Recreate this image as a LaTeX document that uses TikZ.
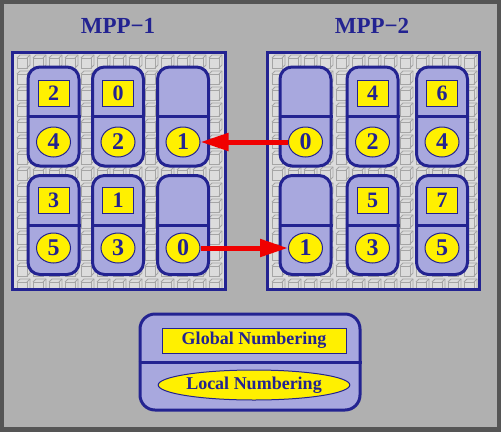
\documentclass[tikz,border=0pt]{standalone}
\usepackage{fontspec}
\setmainfont{Liberation Serif}
\usetikzlibrary{shapes.geometric,arrows.meta}
\definecolor{frameg}{RGB}{85,85,85}
\definecolor{bgg}{RGB}{176,176,176}
\definecolor{panelg}{RGB}{220,220,220}
\definecolor{cubeg}{RGB}{165,165,165}
\definecolor{navy}{RGB}{35,35,145}
\definecolor{cellb}{RGB}{168,168,222}
\definecolor{yel}{RGB}{255,240,0}
\definecolor{arr}{RGB}{240,0,0}
\tikzset{
  panelbox/.style={draw=navy,line width=3pt,fill=panelg},
  cellbox/.style={draw=navy,line width=3pt,fill=cellb,rounded corners=12pt,minimum width=51pt,minimum height=99pt,inner sep=0pt},
  sqbox/.style={draw=navy,line width=1pt,fill=yel,minimum width=31pt,minimum height=26pt,inner sep=0pt,text=navy,font=\fontsize{22}{22}\selectfont\bfseries},
  ellbox/.style={ellipse,draw=navy,line width=1pt,fill=yel,minimum width=34pt,minimum height=30pt,inner sep=0pt,text=navy,font=\fontsize{24}{24}\selectfont\bfseries},
  titletext/.style={text=navy,font=\fontsize{23}{23}\selectfont\bfseries},
  redarrow/.style={draw=arr,line width=5pt,-{Triangle[length=28pt,width=17pt]},shorten >=0pt},
  legtext/.style={text=navy,font=\fontsize{18}{18}\selectfont\bfseries},
  cube/.style={draw=cubeg,line width=0.8pt}
}
\begin{document}
\begin{tikzpicture}[x=1pt,y=-1pt]
\useasboundingbox (0,0) rectangle (501,432);
\fill[frameg] (0,0) rectangle (501,432);
\fill[bgg] (4,4) rectangle (497,427);
% panels
\node[titletext] (t1) at (118,26) {MPP−1};
\node[titletext] (t2) at (372,26) {MPP−2};
\path[panelbox] (12,52) rectangle (225,289);
\path[panelbox] (267,52) rectangle (479,289);
\begin{scope}
\clip (13.5,53.5) rectangle (223.5,287.5);
\foreach \i in {0,...,13} \foreach \j in {0,...,14} {
  \pgfmathsetmacro{\cx}{17+16*\i}
  \pgfmathsetmacro{\cy}{55+16*\j}
  \draw[cube] (\cx,\cy+3) rectangle (\cx+10,\cy+13);
  \draw[cube] (\cx,\cy+3) -- (\cx+3,\cy) -- (\cx+13,\cy) -- (\cx+13,\cy+10) -- (\cx+10,\cy+13);
  \draw[cube] (\cx+10,\cy+3) -- (\cx+13,\cy);
}
\end{scope}
\begin{scope}
\clip (268.5,53.5) rectangle (477.5,287.5);
\foreach \i in {0,...,13} \foreach \j in {0,...,14} {
  \pgfmathsetmacro{\cx}{272+16*\i}
  \pgfmathsetmacro{\cy}{55+16*\j}
  \draw[cube] (\cx,\cy+3) rectangle (\cx+10,\cy+13);
  \draw[cube] (\cx,\cy+3) -- (\cx+3,\cy) -- (\cx+13,\cy) -- (\cx+13,\cy+10) -- (\cx+10,\cy+13);
  \draw[cube] (\cx+10,\cy+3) -- (\cx+13,\cy);
}
\end{scope}
% cells
\foreach \nm/\x/\y in {a11/53.5/116.5, a12/118/116.5, a13/183/116.5,
                      a21/53.5/225, a22/118/225, a23/183/225,
                      b11/305.5/116.5, b12/372.5/116.5, b13/442/116.5,
                      b21/305.5/225, b22/372.5/225, b23/442/225} {
  \node[cellbox] (\nm) at (\x,\y) {};
  \draw[navy,line width=3pt] (\nm.west) -- (\nm.east);
}
% squares (global)
\node[sqbox] (ga11) at (53.5,93) {2};
\node[sqbox] (ga12) at (118,93) {0};
\node[sqbox] (ga21) at (53.5,200) {3};
\node[sqbox] (ga22) at (118,200) {1};
\node[sqbox] (gb12) at (372.5,93) {4};
\node[sqbox] (gb13) at (442,93) {6};
\node[sqbox] (gb22) at (372.5,200) {5};
\node[sqbox] (gb23) at (442,200) {7};
% ellipses (local)
\node[ellbox] (la11) at (53.5,142) {4};
\node[ellbox] (la12) at (118,142) {2};
\node[ellbox] (la13) at (183,142) {1};
\node[ellbox] (la21) at (53.5,248) {5};
\node[ellbox] (la22) at (118,248) {3};
\node[ellbox] (la23) at (183,248) {0};
\node[ellbox] (lb11) at (305.5,142) {0};
\node[ellbox] (lb12) at (372.5,142) {2};
\node[ellbox] (lb13) at (442,142) {4};
\node[ellbox] (lb21) at (305.5,248) {1};
\node[ellbox] (lb22) at (372.5,248) {3};
\node[ellbox] (lb23) at (442,248) {5};
% arrows
\draw[redarrow] (lb11.west) -- (la13.east);
\draw[redarrow] (la23.east) -- (lb21.west);
% legend
\node[draw=navy,line width=3pt,fill=cellb,rounded corners=15pt,minimum width=220pt,minimum height=96pt,inner sep=0pt] (leg) at (250,362) {};
\draw[navy,line width=3pt] (leg.west) -- (leg.east);
\node[draw=navy,line width=1pt,fill=yel,minimum width=184pt,minimum height=25pt,inner sep=0pt,legtext] (glob) at (254,340.5) {Global Numbering};
\node[ellipse,draw=navy,line width=1pt,fill=yel,minimum width=186pt,minimum height=30pt,inner sep=0pt,legtext] (loc) at (254,385) {Local Numbering};
\end{tikzpicture}
\end{document}
